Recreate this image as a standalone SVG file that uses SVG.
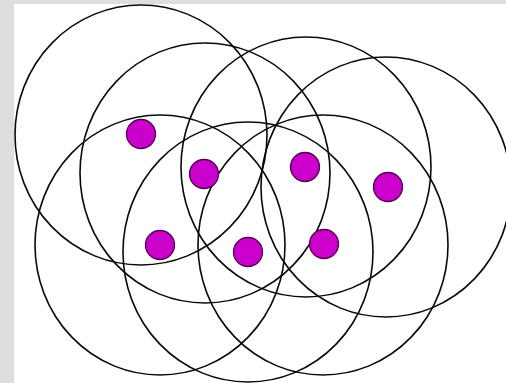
<svg xmlns="http://www.w3.org/2000/svg" width="506" height="383" viewBox="0 0 506 383">
<style>
.range{fill:none;stroke:#0a0a0a;stroke-width:1.6}
.dot{fill:#cc00cc;stroke:#4e004e;stroke-width:1.3}
</style>
<rect x="0" y="0" width="506" height="383" fill="#dedede"/>
<rect x="14" y="4" width="492" height="379" fill="#ffffff"/>
<g id="ranges">
<ellipse class="range" cx="141" cy="135" rx="126" ry="130"/>
<ellipse class="range" cx="205" cy="173" rx="125" ry="130"/>
<ellipse class="range" cx="306" cy="167" rx="125" ry="130"/>
<ellipse class="range" cx="386" cy="187" rx="125" ry="130"/>
<ellipse class="range" cx="160" cy="245" rx="125" ry="130"/>
<ellipse class="range" cx="248" cy="252" rx="125" ry="130"/>
<ellipse class="range" cx="323" cy="245" rx="125" ry="130"/>
</g>
<g id="connectors"></g>
<g id="node1"><circle class="dot" cx="141" cy="134" r="14.5"/></g>
<g id="node2"><circle class="dot" cx="204" cy="174" r="14.5"/></g>
<g id="node3"><circle class="dot" cx="305" cy="167" r="14.5"/></g>
<g id="node4"><circle class="dot" cx="388" cy="187" r="14.5"/></g>
<g id="node5"><circle class="dot" cx="160" cy="245" r="14.5"/></g>
<g id="node6"><circle class="dot" cx="248" cy="252" r="14.5"/></g>
<g id="node7"><circle class="dot" cx="324" cy="244" r="14.5"/></g>
</svg>
